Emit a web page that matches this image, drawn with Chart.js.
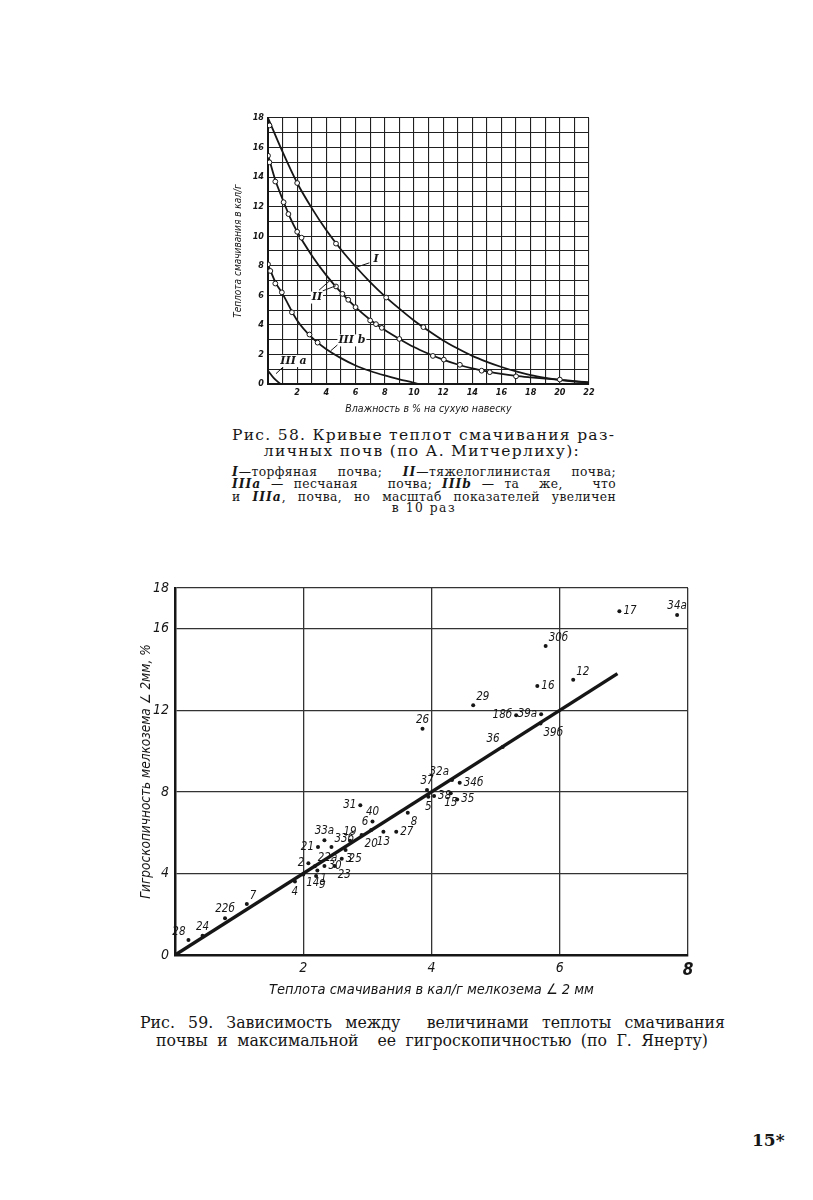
<!DOCTYPE html>
<html lang="ru">
<head>
<meta charset="utf-8">
<title>Рис. 58, 59</title>
<script src="https://cdn.jsdelivr.net/npm/chart.js@4.4.1/dist/chart.umd.min.js"></script>
<style>
  html, body { margin:0; padding:0; background:#fff; }
  body { width:813px; height:1200px; position:relative; overflow:hidden; color:#161616; }
  canvas { position:absolute; }
  #fig58 { left:228px; top:100px; }
  #fig59 { left:120px; top:570px; }
  .cap { position:absolute; white-space:nowrap; font-family:"DejaVu Serif","Liberation Serif",serif; }
  .just { text-align:justify; text-align-last:justify; }
  .cen { text-align:center; }
  .big58 { font-size:15.5px; line-height:18px; letter-spacing:1.3px; }
  .small { font-size:12.3px; line-height:13px; letter-spacing:0.4px; }
  .small i { font-weight:bold; letter-spacing:1px; }
  .big59 { font-family:"DejaVu Serif Condensed","DejaVu Serif","Liberation Serif",serif; font-size:17.5px; line-height:20px; }
</style>
</head>
<body>
<canvas id="fig58" width="372" height="320"></canvas>
<div class="cap just big58" style="left:232px;top:426px;width:380px;">Рис. 58. Кривые теплот смачивания раз-</div>
<div class="cap cen big58" style="left:232px;top:442px;width:380px;">личных почв (по А. Митчерлиху):</div>
<div class="cap just small" style="left:232px;top:465px;width:384px;"><i>I</i>—торфяная почва; <i>II</i>—тяжелоглинистая почва;</div>
<div class="cap just small" style="left:232px;top:477px;width:384px;"><i>IIIa</i> — песчаная&nbsp;&nbsp; почва; <i>IIIb</i> — та&nbsp; же,&nbsp;&nbsp; что</div>
<div class="cap just small" style="left:232px;top:490px;width:384px;">и <i>IIIa</i>, почва, но масштаб показателей увеличен</div>
<div class="cap cen small" style="left:232px;top:502px;width:384px;letter-spacing:1.5px;">в 10 раз</div>

<canvas id="fig59" width="590" height="433"></canvas>
<div class="cap just big59" style="left:140px;top:1012px;width:585px;">Рис. 59. Зависимость между&nbsp; величинами теплоты смачивания</div>
<div class="cap just big59" style="left:156px;top:1030px;width:552px;">почвы и максимальной&nbsp; ее гигроскопичностью (по Г. Янерту)</div>

<div class="cap" style="left:752px;top:1130px;font-size:17px;font-weight:bold;">15*</div>

<script>
'use strict';

////////////////////////////////////////////////////
// Рис. 58 -- данные (влажность %, теплота кал/г)
const curveIx = [0, 1, 2, 3, 4, 5, 6, 7, 8, 9, 10, 11, 12, 13, 14, 15, 16, 17, 18, 19, 20, 21, 22];
const curveIy = [18, 15.7, 13.6, 11.9, 10.4, 9.1, 7.95, 6.9, 5.95, 5.1, 4.3, 3.6, 2.95, 2.4, 1.9, 1.5, 1.15, 0.85, 0.6, 0.42, 0.28, 0.17, 0.1];
const markIx = [0.1, 2, 4.66, 8.1, 10.65];
const markIy = [17.5, 13.6, 9.5, 5.85, 3.85];

const curveIIx = [0, 0.5, 1, 1.5, 2, 3, 4, 5, 6, 7, 8, 9, 10, 11, 12, 13, 14, 15, 16, 17, 18, 19, 20, 21, 22];
const curveIIy = [15.5, 13.8, 12.5, 11.3, 10.3, 8.7, 7.35, 6.2, 5.2, 4.35, 3.65, 3.05, 2.5, 2.05, 1.65, 1.32, 1.05, 0.85, 0.68, 0.55, 0.45, 0.36, 0.28, 0.2, 0.1];
const markIIx = [0, 0.1, 0.5, 1.07, 1.4, 2, 2.3, 4.66, 5.1, 5.5, 6, 7, 7.4, 7.8, 9, 11.3, 12.05, 13.15, 14.64, 15.2, 17, 20];
const markIIy = [15.45, 15, 13.7, 12.3, 11.5, 10.3, 9.9, 6.6, 6.1, 5.7, 5.2, 4.3, 4.05, 3.8, 3.05, 1.9, 1.65, 1.3, 0.9, 0.8, 0.52, 0.3];

const curveIIIbx = [0, 0.5, 1, 2, 3, 4, 5, 6, 7, 8, 9, 10, 10.3];
const curveIIIby = [8.1, 6.9, 6.1, 4.3, 3.15, 2.35, 1.75, 1.25, 0.88, 0.58, 0.32, 0.08, 0];
const markIIIbx = [0, 0.16, 0.5, 0.95, 1.64, 2.84, 3.4];
const markIIIby = [8.1, 7.65, 6.8, 6.2, 4.85, 3.35, 2.8];

const curveIIIax = [0, 0.4, 0.85];
const curveIIIay = [0.9, 0.4, 0];

// подписи кривых и выноски (в единицах осей)
const curveNames = ['I', 'II', 'III b', 'III a'];
const curveNameAt = [[7.4, 8.45], [3.35, 5.85], [5.75, 2.95], [1.75, 1.55]];
const leaders = [
    [6.95, 8.2, 6.05, 7.9],
    [3.5, 6.35, 4.3, 7.05],
    [3.75, 6.3, 4.65, 6.65],
    [5.0, 2.85, 4.3, 2.25],
    [1.25, 1.35, 0.55, 0.7]
];

////////////////////////////////////////////////////
// Рис. 59 -- данные (теплота смачивания, гигроскопичность)
const soilIds = ['28', '24', '22б', '7', '4', '14', '2', '22а', '1', '9', '21', '33а', '33б', '30', '23', '3', '25',
    '19', '20', '6', '40', '31', '13', '27', '8', '5', '37', '38', '15', '35', '32а', '34б', '26', '36', '18б',
    '39а', '39б', '29', '16', '30б', '12', '17', '34а'];
const heatValues = [0.21, 0.43, 0.78, 1.12, 1.87, 2.0, 2.08, 2.18, 2.22, 2.2, 2.23, 2.33, 2.44, 2.33, 2.49, 2.6, 2.66,
    2.73, 2.91, 3.06, 3.08, 2.89, 3.25, 3.45, 3.63, 3.95, 3.93, 4.04, 4.3, 4.4, 4.32, 4.44, 3.86, 5.11, 5.32,
    5.71, 5.7, 4.65, 5.65, 5.78, 6.21, 6.93, 7.83];
const hygroValues = [0.74, 0.95, 1.8, 2.5, 3.6, 3.95, 4.5, 4.35, 4.15, 3.87, 5.3, 5.63, 5.3, 4.36, 4.36, 4.72, 5.15,
    5.6, 5.88, 6.13, 6.55, 7.35, 6.05, 6.05, 6.98, 7.76, 8.09, 7.8, 7.93, 7.63, 8.58, 8.45, 11.1, 10.2, 11.76,
    11.81, 11.35, 12.25, 13.19, 15.15, 13.5, 16.86, 16.67];
// где стоит номер относительно точки
const labelSide = ['nw', 'n', 'n', 'ne', 's', 'se', 'w', 'ne', 'se', 'se', 'w', 'n', 'ne', 'e', 'se', 'e', 'se',
    'n', 'se', 'nw', 'n', 'w', 's', 'e', 'se', 's', 'n', 'e', 's', 'e', 'nw', 'e', 'n', 'nw', 'w',
    'w', 'se', 'ne', 'e', 'ne', 'ne', 'e', 'n'];
const fitLineX = [0, 6.9];
const fitLineY = [0, 13.8];
const yTicks59 = [0, 4, 8, 12, 16, 18];

////////////////////////////////////////////////////
const handFont = '"DejaVu Sans Condensed", "Liberation Sans Narrow", "DejaVu Sans", sans-serif';
const ink = '#161616';

function pts(xs, ys) {
    return xs.map((v, i) => ({ x: v, y: ys[i] }));
}
function curve(xs, ys) {
    return {
        type: 'line', data: pts(xs, ys), borderColor: ink, borderWidth: 1.8,
        pointRadius: 0, tension: 0.4, cubicInterpolationMode: 'monotone', order: 1
    };
}
function marks(xs, ys) {
    return {
        type: 'scatter', data: pts(xs, ys), pointStyle: 'circle', pointRadius: 2.4,
        backgroundColor: '#fff', borderColor: ink, borderWidth: 1, order: 0
    };
}

const curveLabels = {
    id: 'curveLabels',
    afterDatasetsDraw(chart) {
        const { ctx, scales: { x, y } } = chart;
        ctx.save();
        ctx.strokeStyle = ink;
        ctx.lineWidth = 1;
        leaders.forEach(l => {
            ctx.beginPath();
            ctx.moveTo(x.getPixelForValue(l[0]), y.getPixelForValue(l[1]));
            ctx.lineTo(x.getPixelForValue(l[2]), y.getPixelForValue(l[3]));
            ctx.stroke();
        });
        ctx.font = 'italic bold 11px "DejaVu Serif", serif';
        ctx.textAlign = 'center';
        ctx.textBaseline = 'middle';
        curveNames.forEach((name, i) => {
            const px = x.getPixelForValue(curveNameAt[i][0]);
            const py = y.getPixelForValue(curveNameAt[i][1]);
            const w = ctx.measureText(name).width;
            ctx.fillStyle = '#fff';
            ctx.fillRect(px - w / 2 - 1, py - 6, w + 2, 12);
            ctx.fillStyle = ink;
            ctx.fillText(name, px, py);
        });
        ctx.restore();
    }
};

new Chart(document.getElementById('fig58').getContext('2d'), {
    type: 'line',
    data: {
        datasets: [
            curve(curveIx, curveIy), marks(markIx, markIy),
            curve(curveIIx, curveIIy), marks(markIIx, markIIy),
            curve(curveIIIbx, curveIIIby), marks(markIIIbx, markIIIby),
            curve(curveIIIax, curveIIIay)
        ]
    },
    options: {
        responsive: false,
        animation: false,
        layout: { padding: { top: 18, right: 11, left: 0, bottom: 0 } },
        plugins: { legend: { display: false }, tooltip: { enabled: false } },
        scales: {
            x: {
                type: 'linear', min: 0, max: 22,
                afterFit: s => { s.height = 36; },
                border: { color: ink, width: 2 },
                grid: { color: '#202020', lineWidth: 1.1, drawTicks: false },
                ticks: {
                    stepSize: 1, autoSkip: false, maxRotation: 0, padding: 3, color: ink,
                    font: { family: handFont, size: 9, style: 'italic', weight: 'bold' },
                    callback: v => (v % 2 === 0 && v > 0) ? v : ''
                },
                title: {
                    display: true, text: 'Влажность в % на сухую навеску', color: ink,
                    padding: { top: 4, bottom: 4 },
                    font: { family: handFont, size: 10.5, style: 'italic' }
                }
            },
            y: {
                type: 'linear', min: 0, max: 18,
                afterFit: s => { s.width = 40; },
                border: { color: ink, width: 2 },
                grid: { color: '#202020', lineWidth: 1.1, drawTicks: false },
                ticks: {
                    stepSize: 1, autoSkip: false, padding: 4, color: ink,
                    font: { family: handFont, size: 9, style: 'italic', weight: 'bold' },
                    callback: v => (v % 2 === 0) ? v : ''
                },
                title: {
                    display: true, text: 'Теплота смачивания в кал/г', color: ink,
                    padding: { top: 4, bottom: 2 },
                    font: { family: handFont, size: 10, style: 'italic' }
                }
            }
        }
    },
    plugins: [curveLabels]
});

////////////////////////////////////////////////////
const sideOffset = {
    n: [0, -9, 'center'], s: [0, 10, 'center'], e: [4, 0, 'left'], w: [-4, 0, 'right'],
    ne: [3, -8, 'left'], nw: [-3, -8, 'right'], se: [3, 9, 'left'], sw: [-3, 9, 'right']
};
const pointNumbers = {
    id: 'pointNumbers',
    afterDatasetsDraw(chart) {
        const meta = chart.getDatasetMeta(0);
        const ctx = chart.ctx;
        ctx.save();
        ctx.fillStyle = ink;
        ctx.font = 'italic 11.5px ' + handFont;
        ctx.textBaseline = 'middle';
        meta.data.forEach((el, i) => {
            const o = sideOffset[labelSide[i]];
            ctx.textAlign = o[2];
            ctx.fillText(soilIds[i], el.x + o[0], el.y + o[1]);
        });
        ctx.restore();
    }
};

new Chart(document.getElementById('fig59').getContext('2d'), {
    type: 'scatter',
    data: {
        datasets: [
            {
                data: pts(heatValues, hygroValues), pointRadius: 2, backgroundColor: ink,
                borderColor: ink, borderWidth: 0, order: 0
            },
            {
                type: 'line', data: pts(fitLineX, fitLineY), borderColor: ink, borderWidth: 3.5,
                pointRadius: 0, order: 1
            }
        ]
    },
    options: {
        responsive: false,
        animation: false,
        layout: { padding: { top: 18, right: 22, left: 0, bottom: 0 } },
        plugins: { legend: { display: false }, tooltip: { enabled: false } },
        scales: {
            x: {
                type: 'linear', min: 0, max: 8,
                afterFit: s => { s.height = 48; },
                border: { color: ink, width: 2.5 },
                grid: { color: '#333', lineWidth: 1.3, drawTicks: false },
                ticks: {
                    stepSize: 2, padding: 5, color: ink,
                    font: ctx => ({
                        family: handFont, size: ctx.tick && ctx.tick.value === 8 ? 17 : 14,
                        style: 'italic', weight: ctx.tick && ctx.tick.value === 8 ? 'bold' : 'normal'
                    }),
                    callback: v => v === 0 ? '' : v
                },
                title: {
                    display: true, text: 'Теплота смачивания в кал/г мелкозема ∠ 2 мм', color: ink,
                    padding: { top: 4, bottom: 4 },
                    font: { family: handFont, size: 14.5, style: 'italic' }
                }
            },
            y: {
                type: 'linear', min: 0, max: 18,
                afterFit: s => { s.width = 55; },
                afterBuildTicks: s => { s.ticks = yTicks59.map(v => ({ value: v })); },
                border: { color: ink, width: 2.5 },
                grid: { color: '#333', lineWidth: 1.3, drawTicks: false },
                ticks: {
                    padding: 6, color: ink,
                    font: { family: handFont, size: 14, style: 'italic' }
                },
                title: {
                    display: true, text: 'Гигроскопичность мелкозема ∠ 2мм, %', color: ink,
                    padding: { top: 18, bottom: 0 },
                    font: { family: handFont, size: 13.5, style: 'italic' }
                }
            }
        }
    },
    plugins: [pointNumbers]
});
</script>
</body>
</html>
